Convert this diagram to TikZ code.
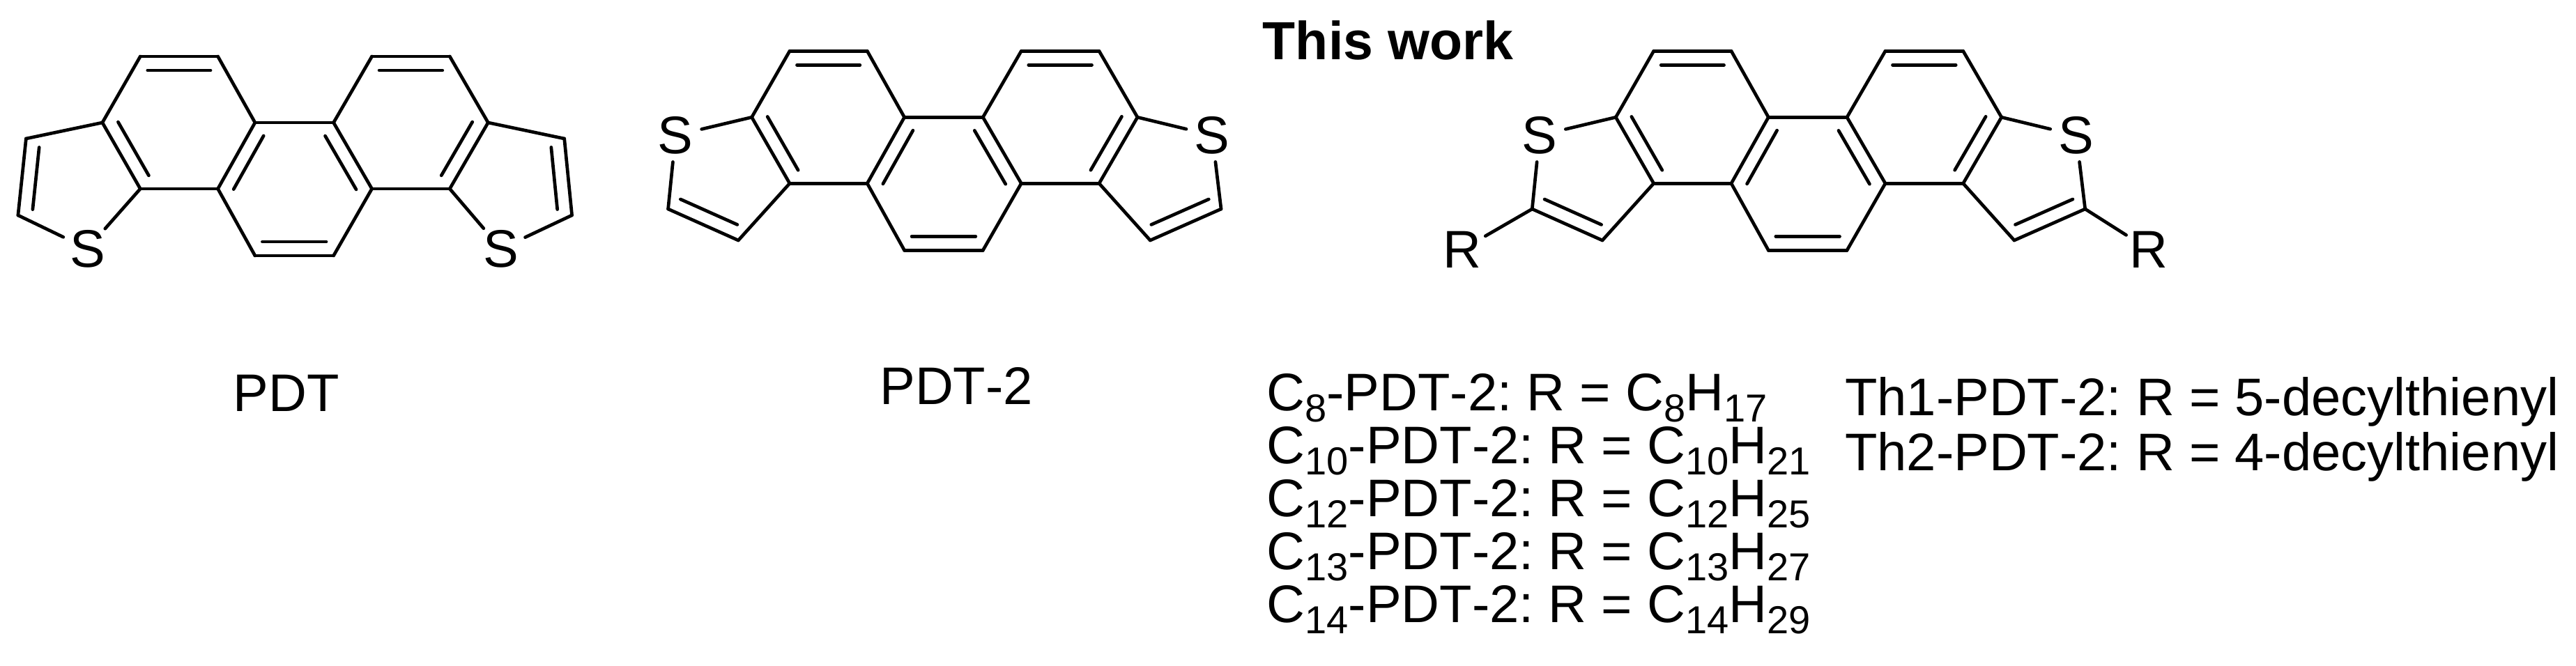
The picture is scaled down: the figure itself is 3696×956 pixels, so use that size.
\documentclass[tikz,border=0pt]{standalone}
\usepackage{fontspec}
\setmainfont[Kerning=Off]{Liberation Sans}
\frenchspacing
\usetikzlibrary{calc}
\tikzset{
  bond/.style={line width=2.35pt, line cap=round},
  atomlabel/.style={circle, inner sep=0pt, minimum size=38pt, font=\fontsize{38}{38}\selectfont},
  caption/.style={inner sep=0pt, anchor=base west, font=\fontsize{38}{38}\selectfont}
}
\newcommand{\sub}[1]{\smash{\lower8pt\hbox{\fontsize{28}{28}\selectfont #1}}}
% outer bond plus the short inner line on the left of the direction of travel
\newcommand{\dblbond}[2]{
  \draw[bond] (#1) -- (#2);
  \draw[bond] ($(#1)!5.25pt!(#2)!10pt!90:(#2)$) -- ($(#2)!5.25pt!(#1)!10pt!-90:(#1)$);
}
\begin{document}
\begin{tikzpicture}[x=0.5pt, y=-0.5pt]
\useasboundingbox (0,0) rectangle (3696,956);
% the same four rings in all three molecules
\foreach \m/\dx/\dy in {p/201.3/81, q/1133/73.3, r/2372.7/73.3}
{
  \begin{scope}[shift={(\dx,\dy)}]
    \coordinate (\m a1) at (0,0);
    \coordinate (\m a2) at (111.3,0);
    \coordinate (\m a3) at (164.6,95);
    \coordinate (\m a4) at (277.3,95);
    \coordinate (\m a5) at (332.3,0);
    \coordinate (\m a6) at (444,0);
    \coordinate (\m a7) at (499,95);
    \coordinate (\m a8) at (444,190);
    \coordinate (\m a9) at (332.3,190);
    \coordinate (\m a10) at (277.3,286);
    \coordinate (\m a11) at (164.6,286);
    \coordinate (\m a12) at (111.3,190);
    \coordinate (\m a13) at (0,190);
    \coordinate (\m a14) at (-54.4,95);
  \end{scope}
  \foreach \i/\j in {a14/a1, a2/a3, a3/a4, a4/a5, a6/a7, a8/a9, a9/a10, a11/a12, a12/a13}
  {
    \draw[bond] (\m\i) -- (\m\j);
  }
  \foreach \i/\j in {a2/a1, a6/a5, a14/a13, a3/a12, a9/a4, a8/a7, a11/a10}
  {
    \dblbond{\m\i}{\m\j}
  }
}
% PDT
\coordinate (pb1) at (37.4,199);
\coordinate (pb2) at (25.9,309);
\coordinate (pc1) at (809.7,199);
\coordinate (pc2) at (820.6,309);
\node[atomlabel] (ps1) at (125.4,357) {S};
\node[atomlabel] (ps2) at (718.8,357) {S};
\draw[bond] (pa14) -- (pb1);
\dblbond{pb1}{pb2}
\draw[bond] (pb2) -- (ps1);
\draw[bond] (ps1) -- (pa13);
\draw[bond] (pa7) -- (pc1);
\dblbond{pc2}{pc1}
\draw[bond] (pc2) -- (ps2);
\draw[bond] (ps2) -- (pa8);
% PDT-2
\coordinate (qb1) at (1059.3,345);
\coordinate (qb2) at (958.6,300);
\coordinate (qc1) at (1650.3,345);
\coordinate (qc2) at (1752,300);
\node[atomlabel] (qs1) at (969.3,194.3) {S};
\node[atomlabel] (qs2) at (1739.3,194.3) {S};
\draw[bond] (qa13) -- (qb1);
\dblbond{qb2}{qb1}
\draw[bond] (qb2) -- (qs1);
\draw[bond] (qs1) -- (qa14);
\draw[bond] (qa8) -- (qc1);
\dblbond{qc1}{qc2}
\draw[bond] (qc2) -- (qs2);
\draw[bond] (qs2) -- (qa7);
% substituted PDT-2
\coordinate (rb1) at (2299,345);
\coordinate (rb2) at (2198.3,300);
\coordinate (rc1) at (2890,345);
\coordinate (rc2) at (2991.7,300);
\node[atomlabel] (rs1) at (2209,194.3) {S};
\node[atomlabel] (rs2) at (2979,194.3) {S};
\node[atomlabel] (rr1) at (2098,358) {R};
\node[atomlabel] (rr2) at (3083,358) {R};
\draw[bond] (ra13) -- (rb1);
\dblbond{rb2}{rb1}
\draw[bond] (rb2) -- (rs1);
\draw[bond] (rs1) -- (ra14);
\draw[bond] (rb2) -- (rr1);
\draw[bond] (ra8) -- (rc1);
\dblbond{rc1}{rc2}
\draw[bond] (rc2) -- (rs2);
\draw[bond] (rs2) -- (ra7);
\draw[bond] (rc2) -- (rr2);
% texts
\node[caption, font=\fontsize{38.5}{38.5}\selectfont\bfseries] (title) at (1811.5,86) {This work};
\node[caption] (pdt) at (334.2,591) {PDT};
\node[caption] (pdttwo) at (1262,581) {PDT-2};
\foreach \n/\h/\yy in {8/17/589.5, 10/21/665.5, 12/25/741.5, 13/27/817.5, 14/29/893.5}
{
  \node[caption] (c\n) at (1817.2,\yy) {C\sub{\n}-PDT-2: R = C\sub{\n}H\sub{\h}};
}
\node[caption] (thone) at (2646.7,596.7) {Th1-PDT-2: R = 5-decylthienyl};
\node[caption] (thtwo) at (2646.7,675.7) {Th2-PDT-2: R = 4-decylthienyl};
\end{tikzpicture}
\end{document}
